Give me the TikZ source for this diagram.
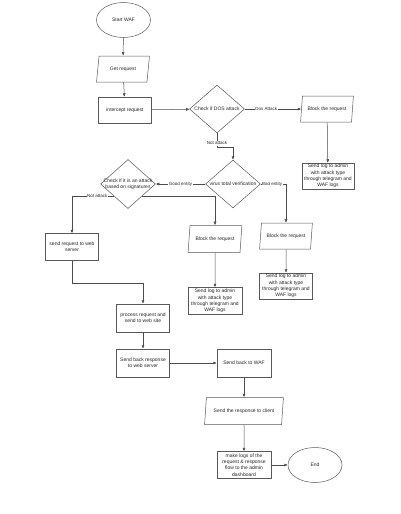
\documentclass[tikz,border=0pt]{standalone}
\usepackage{fontspec}
\setmainfont{Liberation Sans}
\usetikzlibrary{arrows.meta,shapes.geometric}

\begin{document}
\begin{tikzpicture}[x=1pt, y=-1pt,
		>={Latex[length=3.5pt,width=3pt]},
		every node/.style={font=\fontsize{5}{6.2}\selectfont, text=black!85},
		box/.style={draw=black!65, line width=.5pt, rectangle, align=center,
			minimum width=53, minimum height=27, inner sep=1pt},
		io/.style={draw=black!65, line width=.5pt, trapezium, trapezium stretches=true,
			trapezium left angle=77, trapezium right angle=103,
			minimum width=53, minimum height=26, inner sep=1pt, align=center},
		decision/.style={draw=black!65, line width=.5pt, diamond,
			minimum width=55, minimum height=48, inner sep=0pt},
		dtext/.style={align=center, inner sep=0pt},
		terminal/.style={draw=black!65, line width=.5pt, ellipse,
			minimum width=54, minimum height=35, inner sep=0pt},
		lbl/.style={fill=white, inner sep=.6pt, font=\fontsize{4.5}{5}\selectfont},
		flow/.style={->, draw=black!70, line width=.5pt}]
		\useasboundingbox (0,0) rectangle (400,514);
		% top row
		\node[terminal] (start) at (123.5,20) {Start WAF};
		\node[io] (get) at (123,69) {Get request};
		\node[box, minimum height=26] (intercept) at (125,110) {intercept request};
		\node[decision, label={[dtext]center:Check if DOS attack}] (dos) at (217,109) {};
		\node[io] (block1) at (327,109) {Block the request};
		\node[box, minimum width=52, minimum height=26] (log1) at (328,176)
			{Send log to admin\\with attack type\\through telegram and\\WAF logs};
		% middle decisions
		\node[decision, label={[dtext]center:virus total verification}] (vt) at (233,184) {};
		\node[decision, minimum height=49,
			label={[dtext]center:Check if it is an attack\\based on signatures}] (sig) at (128,184) {};
		\node[io] (block3) at (286,236) {Block the request};
		\node[box, minimum height=26] (log3) at (286,286)
			{Send log to admin\\with attack type\\through telegram and\\WAF logs};
		\node[io, minimum width=54, minimum height=27] (block2) at (215,239) {Block the request};
		\node[box, minimum width=54] (log2) at (215,301)
			{Send log to admin\\with attack type\\through telegram and\\WAF logs};
		\node[box] (web) at (72,247) {send request to web\\server};
		% bottom part
		\node[box, minimum height=28] (proc) at (143,318) {process request and\\send to web site};
		\node[box, minimum height=28] (back) at (143,363) {Send back response\\to web server};
		\node[box, minimum width=54, minimum height=28] (waf) at (244,363) {Send back to WAF};
		\node[io, minimum width=79, minimum height=27] (client) at (244,411) {Send the response to client};
		\node[box, minimum width=54] (logs) at (244,465)
			{make logs of the\\request \& response\\flow to the admin\\dashboard};
		\node[terminal] (end) at (315,465) {End};
		% connectors
		\draw[flow] (start) -- (get);
		\draw[flow] (get) -- (intercept);
		\draw[flow] (intercept) -- (dos);
		\draw[flow] (dos) -- node[lbl, pos=.38] {Dos Attack} (block1);
		\draw[flow] (block1) -- (log1);
		\draw[flow] (dos.south) -- node[lbl, pos=.72] {Not attack} ++(0,14) -| (vt.north);
		\draw[flow] (vt) -- node[lbl, pos=.5] {Good entity} (sig);
		\draw[flow] (vt.east) -- node[lbl, pos=.45] {Bad entity} (block3.north |- vt.east) -- (block3.north);
		\draw[flow] (sig.south east) -| (block2.north);
		\draw[flow] (sig.south west) -- node[lbl, pos=.4] {Not attack} (web.north |- sig.south west) -- (web.north);
		\draw[flow] (block2) -- (log2);
		\draw[flow] (block3) -- (log3);
		\draw[flow] (web.south) -- ++(0,22) -| (proc.north);
		\draw[flow] (proc) -- (back);
		\draw[flow] (back) -- (waf);
		\draw[flow] (waf) -- (client);
		\draw[flow] (client) -- (logs);
		\draw[flow] (logs) -- (end);
	\end{tikzpicture}
\end{document}
